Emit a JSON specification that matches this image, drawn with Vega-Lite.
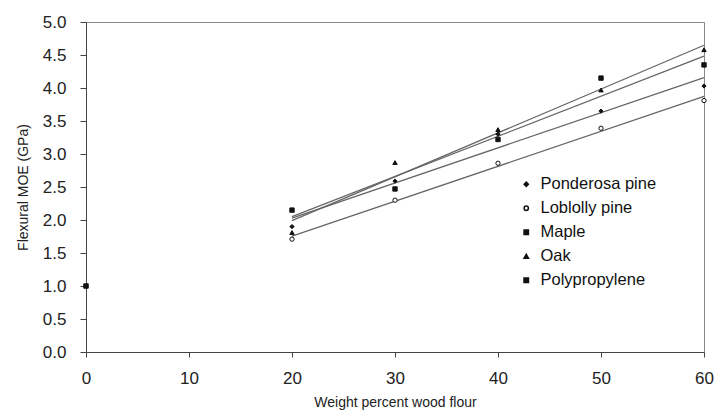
{
  "$schema": "https://vega.github.io/schema/vega-lite/v6.json",
  "width": 618,
  "height": 330,
  "autosize": "none",
  "padding": {"left": 86, "top": 22, "right": 16, "bottom": 64},
  "background": "white",
  "config": {
    "font": "Liberation Sans",
    "view": {"stroke": "#888", "strokeWidth": 1},
    "axis": {"grid": false, "domainColor": "#444", "tickColor": "#444", "labelColor": "#222", "titleColor": "#222", "labelFont": "Liberation Sans", "titleFont": "Liberation Sans", "titleFontWeight": "normal", "labelOverlap": false}
  },
  "data": {
    "values": [
      {"series": "Polypropylene", "wt": 0, "moe": 1.0},
      {"series": "Ponderosa pine", "wt": 20, "moe": 1.90},
      {"series": "Ponderosa pine", "wt": 30, "moe": 2.59},
      {"series": "Ponderosa pine", "wt": 40, "moe": 3.30},
      {"series": "Ponderosa pine", "wt": 50, "moe": 3.65},
      {"series": "Ponderosa pine", "wt": 60, "moe": 4.03},
      {"series": "Loblolly pine", "wt": 20, "moe": 1.71},
      {"series": "Loblolly pine", "wt": 30, "moe": 2.30},
      {"series": "Loblolly pine", "wt": 40, "moe": 2.86},
      {"series": "Loblolly pine", "wt": 50, "moe": 3.39},
      {"series": "Loblolly pine", "wt": 60, "moe": 3.81},
      {"series": "Maple", "wt": 20, "moe": 2.15},
      {"series": "Maple", "wt": 30, "moe": 2.47},
      {"series": "Maple", "wt": 40, "moe": 3.22},
      {"series": "Maple", "wt": 50, "moe": 4.15},
      {"series": "Maple", "wt": 60, "moe": 4.35},
      {"series": "Oak", "wt": 20, "moe": 1.81},
      {"series": "Oak", "wt": 30, "moe": 2.87},
      {"series": "Oak", "wt": 40, "moe": 3.37},
      {"series": "Oak", "wt": 50, "moe": 3.97},
      {"series": "Oak", "wt": 60, "moe": 4.58}
    ]
  },
  "encoding": {
    "x": {
      "field": "wt", "type": "quantitative",
      "scale": {"domain": [0, 60], "nice": false},
      "axis": {"values": [0, 10, 20, 30, 40, 50, 60], "title": "Weight percent wood flour", "labelFontSize": 17, "titleFontSize": 14, "tickSize": 5, "labelPadding": 13, "titlePadding": 9, "labelFlush": false}
    },
    "y": {
      "field": "moe", "type": "quantitative",
      "scale": {"domain": [0, 5], "nice": false},
      "axis": {"values": [0, 0.5, 1, 1.5, 2, 2.5, 3, 3.5, 4, 4.5, 5], "format": ".1f", "title": "Flexural MOE (GPa)", "labelFontSize": 17, "titleFontSize": 14, "tickSize": 6, "labelPadding": 14, "titlePadding": 12, "labelOverlap": false, "labelFlush": false}
    }
  },
  "layer": [
    {
      "transform": [
        {"filter": "datum.series != 'Polypropylene'"},
        {"regression": "moe", "on": "wt", "groupby": ["series"], "extent": [20, 60]}
      ],
      "mark": {"type": "line", "color": "#666", "strokeWidth": 1.3},
      "encoding": {
        "detail": {"field": "series"}
      }
    },
    {
      "mark": {"type": "point", "filled": false, "stroke": "#111", "strokeWidth": 1, "opacity": 1},
      "encoding": {
        "shape": {
          "field": "series", "type": "nominal",
          "scale": {"domain": ["Ponderosa pine", "Loblolly pine", "Maple", "Oak", "Polypropylene"], "range": ["diamond", "circle", "square", "triangle-up", "square"]},
          "legend": {"title": null, "orient": "none", "legendX": 432, "legendY": 154, "labelFontSize": 16.5, "labelColor": "#111", "rowPadding": 7, "labelOffset": 6, "encode": {"symbols": {"update": {"stroke": {"value": "#111"}, "strokeWidth": {"value": 1}}}}}
        },
        "fill": {
          "field": "series", "type": "nominal",
          "scale": {"domain": ["Ponderosa pine", "Loblolly pine", "Maple", "Oak", "Polypropylene"], "range": ["#111", "white", "#111", "#111", "#111"]},
          "legend": {"title": null, "orient": "none", "legendX": 432, "legendY": 154, "labelFontSize": 16.5, "labelColor": "#111", "rowPadding": 7, "labelOffset": 6, "encode": {"symbols": {"update": {"stroke": {"value": "#111"}, "strokeWidth": {"value": 1}}}}}
        },
        "size": {
          "field": "series", "type": "nominal",
          "scale": {"domain": ["Ponderosa pine", "Loblolly pine", "Maple", "Oak", "Polypropylene"], "range": [18, 20, 20, 18, 60]},
          "legend": {"title": null, "orient": "none", "legendX": 432, "legendY": 154, "labelFontSize": 16.5, "labelColor": "#111", "rowPadding": 7, "labelOffset": 6, "encode": {"symbols": {"update": {"stroke": {"value": "#111"}, "strokeWidth": {"value": 1}}}}}
        }
      }
    }
  ]
}
